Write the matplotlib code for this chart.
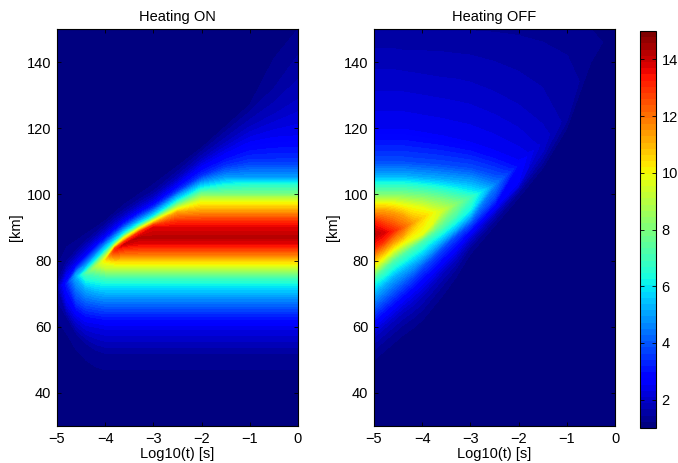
import numpy as np
import matplotlib
matplotlib.use("Agg")
import matplotlib.pyplot as plt
from matplotlib.cm import ScalarMappable
from matplotlib.colors import Normalize

plt.rcParams['font.family'] = ['Liberation Sans', 'DejaVu Sans']
plt.rcParams['font.size'] = 10.5

# ---------------- Values ----------------
# each row is one level of the field, with the height [km] it sits at per time column
log_t = [-5, -4.8, -4.6, -4.4, -4.2, -4, -3.8, -3.6, -3.3, -3, -2.5, -2, -1.5, -1, -0.5, 0]

on_peak = [1.5, 3.2, 5.2, 7.2, 8.7, 10.2, 13, 14, 14.2, 14.2, 14.2, 14.2, 14.2, 14.2, 14.2, 14.2]
on_levels = [1, 1.05, 1.22, 1.44, 2.4, 3.7, 5.2, 6.25, 7.1, 9.3, 10.7, 12, 13.6, 14.2,
             13.7, 12.9, 11.3, 9.7, 8, 6.25, 5, 3.5, 2.5, 1.8, 1.44, 1.22, 1.05, 1]
on_heights = [
    [30, 30, 30, 30, 30, 30, 30, 30, 30, 30, 30, 30, 30, 30, 30, 30],
    [55, 50, 45, 42, 41, 40, 40, 40, 40, 40, 40, 40, 40, 40, 40, 40],
    [62, 58, 53, 50, 48, 47, 47, 47, 47, 47, 47, 47, 47, 47, 47, 47],
    [68, 63, 58, 55, 53, 52, 52, 52, 52, 52, 52, 52, 52, 52, 52, 52],
    [72, 67, 63, 61, 60.5, 60, 60, 60, 60, 60, 60, 60, 60, 60, 60, 60],
    [72, 73, 68, 66, 65.5, 65, 65, 65, 65, 65, 65, 65, 65, 65, 65, 65],
    [72, 73, 75, 71.5, 70.5, 70, 70, 70, 70, 70, 70, 70, 70, 70, 70, 70],
    [72, 73, 75, 74, 73.5, 73, 73, 73, 73, 73, 73, 73, 73, 73, 73, 73],
    [72, 73, 75, 76, 75.5, 75, 75, 75, 75, 75, 75, 75, 75, 75, 75, 75],
    [72, 73, 75, 76, 78, 78, 78, 78, 78, 78, 78, 78, 78, 78, 78, 78],
    [72, 73, 75, 76, 78, 80, 80, 80, 80, 80, 80, 80, 80, 80, 80, 80],
    [72, 73, 75, 76, 78, 80, 81.5, 82, 82, 82, 82, 82, 82, 82, 82, 82],
    [72, 73, 75, 76, 78, 80, 83, 84.5, 85, 85, 85, 85, 85, 85, 85, 85],
    [72, 73, 75, 76, 78, 80, 83, 85, 87, 87, 87, 87, 87, 87, 87, 87],
    [72, 73, 75, 76, 78, 80, 83.2, 85, 87.5, 90, 90, 90, 90, 90, 90, 90],
    [72, 73, 75, 76, 78, 80, 83.5, 85.7, 88.5, 90.7, 92, 92, 92, 92, 92, 92],
    [72, 73, 75, 76, 78, 80.2, 84, 86.2, 89, 91.3, 94.5, 95, 95, 95, 95, 95],
    [72, 73, 75, 76, 78.2, 80.8, 84.5, 87, 89.7, 92, 95.7, 98, 98, 98, 98, 98],
    [72, 73, 75, 76.3, 79, 82, 85, 87.5, 90.2, 92.6, 96.8, 100, 100, 100, 100, 100],
    [72, 73, 75, 77, 80, 83, 85.7, 88.2, 91, 93.2, 98, 101.8, 103, 103.4, 103.4, 103.4],
    [72, 73, 76, 78.5, 81.5, 84.5, 87, 89.4, 92, 94.5, 99.5, 103.5, 105, 105, 105, 105],
    [72, 73, 77.5, 80.5, 83.5, 86, 88.5, 90.8, 93.6, 96, 101, 105.5, 108.5, 110, 110, 110],
    [72, 75.5, 79, 82, 85, 87.5, 90, 92.2, 95, 97.5, 103, 108.5, 112.5, 116, 117.5, 118],
    [72, 78, 81.5, 84.5, 87, 89.5, 92, 94, 97, 99.5, 105, 111, 116, 121, 125, 130],
    [73, 80, 83, 86, 88.5, 91, 93.5, 95.5, 98.5, 101, 107, 113, 119, 125, 132, 142],
    [78, 84, 86, 88, 90, 92, 94.5, 97, 100, 103, 108.5, 114, 120.5, 127, 141, 150],
    [90, 92, 94, 96, 98, 100, 102, 104, 108, 110, 117, 124, 132, 140, 149.5, 150],
    [150, 150, 150, 150, 150, 150, 150, 150, 150, 150, 150, 150, 150, 150, 150, 150],
]

off_peak = [14.2, 13.8, 13.1, 12.2, 11.3, 10.6, 10, 9.4, 8.1, 7, 4.6, 2.8, 2, 1.55, 1.33, 1.1]
off_levels = [1, 1.05, 1.22, 1.44, 1.9, 2.5, 3.8, 5.2, 6.25, 7.3, 9.75, 11.3, 13.1, 14.2,
              13.1, 11.3, 9.75, 8, 6.25, 5.2, 3.8, 2.5, 2.2, 1.9, 1.66, 1.44, 1.22, 1]
off_heights = [
    [30, 30, 30, 30, 30, 30, 30, 30, 30, 30, 30, 30, 30, 30, 30, 30],
    [42, 44, 47, 50, 53, 56, 60, 64, 71, 78, 87, 96, 105.5, 117, 137, 146],
    [50, 52.5, 55, 57.5, 59.5, 62, 65.5, 69, 75, 82, 90.5, 99, 108, 120, 140, 148],
    [53, 55.5, 58, 60.5, 62.5, 65, 68.5, 72, 77.5, 84, 92, 100.5, 109.5, 122, 144, 148],
    [57, 59.5, 62, 64.5, 66.5, 69.5, 72.5, 76, 80.5, 86, 94, 102, 113, 124, 144, 148],
    [60, 62.5, 65, 67.5, 70, 72.6, 75.5, 78.5, 83, 88, 95.5, 103, 116, 124, 144, 148],
    [65, 67.5, 70, 72.5, 75, 78, 80.5, 83.5, 87.5, 91, 99, 109, 116, 124, 144, 148],
    [70, 72.5, 75, 77, 79, 81, 83.5, 86, 89.5, 93.5, 103, 109, 116, 124, 144, 148],
    [73, 75, 77.5, 79.5, 81.5, 83.5, 86, 88, 91.5, 95.5, 103, 109, 116, 124, 144, 148],
    [75, 77.5, 80, 82, 84, 86, 88, 90, 94, 99, 103, 109, 116, 124, 144, 148],
    [78, 80.5, 83, 85, 86.5, 88, 91, 95, 97, 99, 103, 109, 116, 124, 144, 148],
    [81, 83, 85.5, 87.5, 91.5, 93, 94.5, 95, 97, 99, 103, 109, 116, 124, 144, 148],
    [84, 86, 89, 90, 91.5, 93, 94.5, 95, 97, 99, 103, 109, 116, 124, 144, 148],
    [88, 88.5, 89, 90, 91.5, 93, 94.5, 95, 97, 99, 103, 109, 116, 124, 144, 148],
    [92, 90.5, 89, 90, 91.5, 93, 94.5, 95, 97, 99, 103, 109, 116, 124, 144, 148],
    [95, 95, 94.5, 93.5, 91.5, 93, 94.5, 95, 97, 99, 103, 109, 116, 124, 144, 148],
    [97.7, 97.7, 97.5, 97, 96.5, 96, 95, 95, 97, 99, 103, 109, 116, 124, 144, 148],
    [100, 100, 100, 100, 99.7, 99.5, 99, 98.5, 97.5, 99, 103, 109, 116, 124, 144, 148],
    [103.5, 103.5, 103.5, 103.5, 103.3, 103, 102.7, 102.3, 101.5, 100.5, 103, 109, 116, 124, 144, 148],
    [105.5, 105.5, 105.5, 105.5, 105.3, 105, 104.8, 104.5, 104, 103.5, 103, 109, 116, 124, 144, 148],
    [110, 110, 110, 110, 109.7, 109.5, 109.3, 109, 108.5, 108, 106, 109, 116, 124, 144, 148],
    [120, 120, 120, 120, 119.5, 119, 118.5, 118, 117, 116, 113.5, 110.5, 116, 124, 144, 148],
    [128, 128, 128, 128, 127.5, 127, 126.5, 126, 125, 124, 121, 117, 116, 124, 144, 148],
    [137, 137, 137, 136.5, 136, 135.5, 135, 134.5, 134, 133, 130, 126, 120, 124, 144, 148],
    [144, 144, 144, 143.5, 143.5, 143.5, 143, 143, 142.5, 142, 140, 137, 132, 124, 144, 148],
    [149.5, 149.5, 149.5, 149.5, 149.5, 149.5, 149.5, 149.5, 149.5, 149.5, 149, 148, 146, 142, 144, 148],
    [150, 150, 150, 150, 150, 150, 150, 150, 150, 150, 150, 150, 150, 150, 150, 148.5],
    [150, 150, 150, 150, 150, 150, 150, 150, 150, 150, 150, 150, 150, 150, 150, 150],
]

panel_titles = ["Heating ON", "Heating OFF"]
x_ticks = [-5, -4, -3, -2, -1, 0]
y_ticks = [40, 60, 80, 100, 120, 140]
bar_ticks = [2, 4, 6, 8, 10, 12, 14]

# ---------------- Figure layout (pixels from the reference) ----------------
W, H = 678, 463


def px_axes(x0, x1, y_top, y_bottom):
    return fig.add_axes([x0 / W, 1 - y_bottom / H, (x1 - x0) / W, (y_bottom - y_top) / H])


fig = plt.figure(figsize=(W / 100, H / 100), dpi=100)
jet64 = plt.get_cmap("jet", 64)
norm = Normalize(vmin=1, vmax=15)
bands = np.linspace(1, 15, 65)

ax_on = px_axes(57, 298, 29, 426)
ax_off = px_axes(374, 615, 29, 426)

# ---------------- Draw both panels ----------------
panels = [(ax_on, on_heights, on_levels, on_peak, panel_titles[0]),
          (ax_off, off_heights, off_levels, off_peak, panel_titles[1])]
for ax, heights, levels, peak, title in panels:
    h = np.array(heights)
    t = np.tile(log_t, (h.shape[0], 1))
    # a level can't exceed the ridge of its column
    v = np.minimum.outer(np.array(levels), np.array(peak))
    ax.contourf(t, h, v, levels=bands, cmap=jet64, norm=norm, antialiased=False)
    ax.set_xlim(-5, 0)
    ax.set_ylim(30, 150)
    ax.set_xticks(x_ticks)
    ax.set_yticks(y_ticks)
    ax.tick_params(direction="in", top=True, right=True, length=3, width=0.6, pad=4)
    ax.set_title(title, fontsize=10.5, pad=6)
    ax.set_xlabel("Log10(t) [s]", fontsize=10.5, labelpad=1)
    ax.set_ylabel("[km]", fontsize=10.5, labelpad=3)
    for spine in ax.spines.values():
        spine.set_linewidth(0.8)

# ---------------- Colorbar ----------------
cax = px_axes(640, 656, 31, 428)
cb = fig.colorbar(ScalarMappable(norm=norm, cmap=jet64), cax=cax, ticks=bar_ticks)
cb.ax.tick_params(direction="in", left=True, right=True, length=3, width=0.6, pad=4)
cb.outline.set_linewidth(0.8)

fig.savefig("out.png", dpi=100)
